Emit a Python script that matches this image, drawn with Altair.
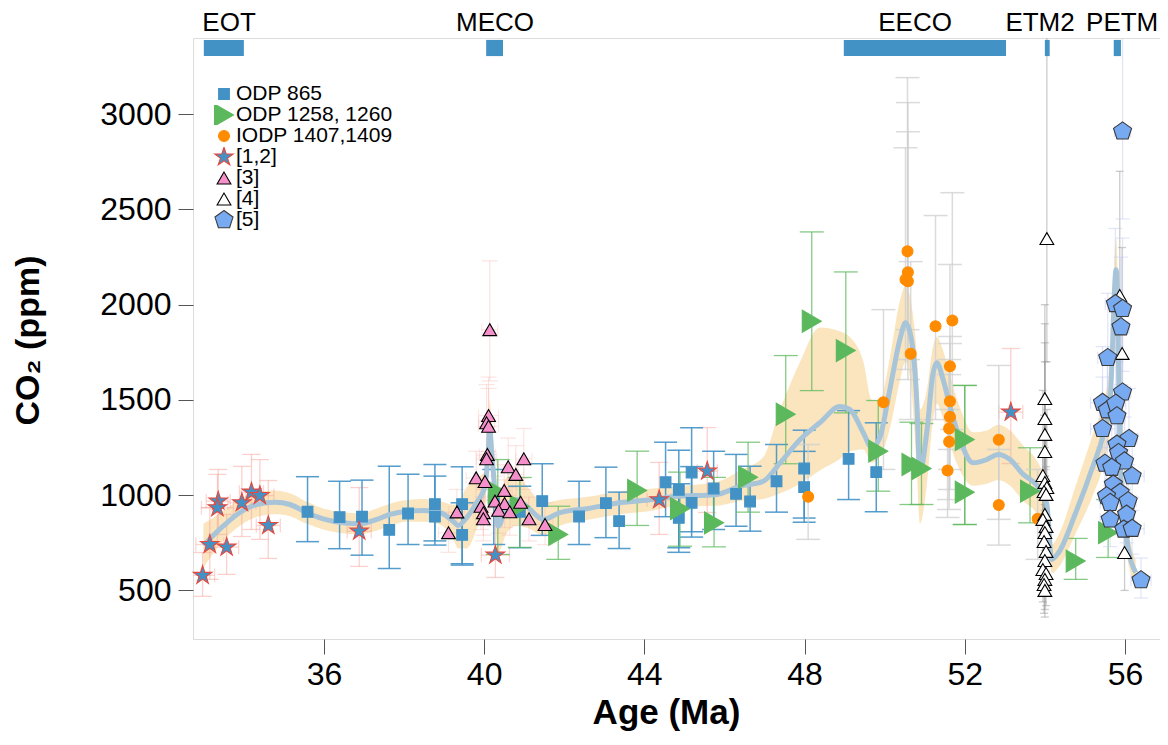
import altair as alt
import pandas as pd

FONT = "Liberation Sans"

# ---------------- data ----------------
series_names = ["ODP 865", "ODP 1258, 1260", "IODP 1407,1409", "[1,2]", "[3]", "[4]", "[5]"]

odp865_ma = [35.59, 36.39, 36.95, 37.63, 38.10, 38.77, 38.77, 39.45, 39.45, 40.24, 40.89, 41.45, 42.37, 43.04,
             43.37, 44.53, 44.86, 44.86, 45.18, 45.18, 45.73, 46.29, 46.64, 47.30, 47.99, 47.99, 49.10, 49.79]
odp865_ppm = [913, 885, 887, 818, 904, 953, 887, 953, 792, 977, 913, 969, 888, 958,
              864, 1068, 1028, 881, 1119, 960, 1035, 1007, 967, 1073, 1140, 1042, 1191, 1121]
odp865_lo = [756, 719, 685, 615, 741, 738, 760, 633, 640, 741, 724, 789, 741, 777,
             720, 887, 724, 700, 808, 780, 820, 837, 811, 911, 858, 880, 977, 913]
odp865_hi = [1097, 1073, 1079, 1152, 1110, 1161, 1100, 1149, 960, 1135, 1047, 1165, 1073, 1147,
             1016, 1278, 1236, 1060, 1354, 1150, 1231, 1214, 1152, 1266, 1341, 1230, 1444, 1380]

odp1258_ma = [40.34, 40.89, 41.85, 43.82, 44.89, 45.74, 46.59, 47.53, 48.18, 49.03, 49.84, 50.67, 50.92,
              52.00, 52.00, 53.63, 54.77, 55.58]
odp1258_ppm = [1014, 941, 794, 1025, 929, 855, 1094, 1425, 1913, 1759, 1231, 1161, 1140,
               1292, 1016, 1021, 654, 803]
odp1258_lo = [689, 726, 663, 841, 732, 729, 911, 1165, 1549, 1432, 1021, 951, 951,
              846, 846, 855, 558, 673]
odp1258_hi = [1187, 1093, 942, 1231, 1121, 1093, 1278, 1733, 2382, 2172, 1497, 1383, 1376,
              1576, 1576, 1249, 773, 977]

iodp_ma = [48.09, 49.97, 50.57, 50.58, 50.52, 50.58, 50.65, 51.27, 51.69, 51.63, 51.63, 51.63, 51.61,
           51.61, 51.57, 52.85, 52.85, 53.82]
iodp_ppm = [992, 1488, 2280, 2170, 2132, 2123, 1742, 1887, 1917, 1677, 1493, 1411, 1350,
            1280, 1130, 1291, 948, 876]
iodp_lo = [768, 1135, 1869, 1712, 1660, 1607, 1397, 1397, 1345, 1240, 1135, 1030, 977,
           925, 883, 873, 738, 663]
iodp_hi = [1266, 1974, 3192, 3061, 2824, 2908, 2226, 2468, 2588, 2211, 1833, 1796, 1712,
           1633, 1450, 1681, 1240, 1135]

ref12_ma = [32.97, 33.15, 33.36, 33.34, 33.57, 33.95, 34.19, 34.40, 34.61, 36.88, 40.28, 44.37, 45.57, 53.15]
ref12_ppm = [579, 741, 969, 934, 727, 960, 1016, 998, 841, 811, 685, 976, 1126, 1436]
ref12_lo = [469, 558, 794, 741, 584, 783, 820, 768, 668, 626, 568, 794, 909, 1166]
ref12_hi = [699, 935, 1135, 1109, 899, 1151, 1214, 1187, 1077, 1040, 977, 1172, 1355, 1770]
ref12_xerr = [0.30, 0.35, 0.30, 0.40, 0.30, 0.35, 0.30, 0.35, 0.30, 0.30, 0.35, 0.30, 0.25, 0.30]

ref3_ma = [39.11, 39.32, 39.80, 40.02, 39.92, 39.98, 39.98, 40.27, 40.50, 40.51, 40.36, 40.64,
           40.60, 40.79, 40.91, 41.12, 40.99, 41.52, 40.14, 40.11, 40.06, 40.11, 40.08, 40.06]
ref3_ppm = [803, 912, 1091, 1072, 942, 908, 876, 969, 1025, 956, 921, 913,
            1149, 1109, 963, 876, 1191, 846, 1869, 1418, 1380, 1362, 1214, 1191]
ref3_lo = [700, 800, 950, 930, 820, 790, 760, 840, 890, 830, 800, 790,
           1000, 960, 840, 760, 1030, 740, 1600, 1230, 1200, 1180, 1050, 1030]
ref3_hi = [910, 1030, 1230, 1210, 1070, 1030, 990, 1100, 1160, 1080, 1040, 1040,
           1300, 1260, 1090, 990, 1350, 960, 2230, 1620, 1580, 1560, 1390, 1360]
ref3_xerr = [0.25, 0.20, 0.25, 0.20, 0.20, 0.25, 0.20, 0.25, 0.20, 0.20, 0.25, 0.20,
             0.25, 0.20, 0.20, 0.25, 0.20, 0.20, 0.20, 0.25, 0.20, 0.25, 0.20, 0.25]

ref4_ma = [54.05, 54.00, 54.00, 54.00, 54.00, 53.95, 54.00, 54.05, 53.98, 54.03, 54.00, 53.95, 54.03,
           54.00, 53.98, 54.03, 54.00, 53.95, 54.03, 54.00, 53.98, 54.00, 55.87, 55.93, 55.99]
ref4_ppm = [2347, 1507, 1402, 1319, 1229, 1103, 1067, 1040, 1019, 1004, 899, 873, 836,
            804, 757, 705, 657, 610, 589, 558, 531, 500, 2048, 1744, 699]
ref4_lo = [1700, 1100, 1000, 950, 900, 800, 780, 760, 740, 730, 650, 630, 600,
           580, 550, 500, 470, 440, 420, 400, 380, 360, 1500, 1300, 500]
ref4_hi = [3500, 2000, 1900, 1800, 1700, 1550, 1500, 1450, 1420, 1400, 1250, 1200, 1150,
           1100, 1050, 980, 920, 860, 830, 790, 750, 710, 2700, 2300, 950]

ref5_ma = [55.94, 55.76, 55.94, 55.90, 55.57, 55.94, 55.44, 55.56, 55.77, 55.80, 55.44, 56.10, 55.80, 55.84,
           55.99, 55.50, 55.67, 56.18, 55.71, 55.88, 55.54, 56.08, 55.63, 56.04, 55.63, 55.97, 56.18, 56.40]
ref5_ppm = [2910, 2004, 1978, 1882, 1721, 1540, 1485, 1446, 1481, 1415, 1348, 1296, 1266, 1222,
            1178, 1166, 1144, 1100, 1056, 1013, 995, 969, 960, 899, 873, 820, 824, 554]
ref5_lo = [2450, 1700, 1650, 1580, 1450, 1290, 1250, 1210, 1240, 1190, 1130, 1090, 1060, 1030,
           990, 980, 960, 920, 890, 850, 830, 810, 800, 750, 730, 690, 690, 460]
ref5_hi = [3500, 2400, 2350, 2250, 2060, 1850, 1780, 1740, 1780, 1700, 1620, 1560, 1520, 1470,
           1410, 1400, 1370, 1320, 1270, 1220, 1200, 1160, 1150, 1080, 1050, 980, 990, 670]
ref5_xerr = [0.20, 0.25, 0.15, 0.20, 0.25, 0.20, 0.30, 0.20, 0.25, 0.20, 0.30, 0.20, 0.25, 0.20,
             0.20, 0.25, 0.20, 0.30, 0.20, 0.25, 0.20, 0.20, 0.25, 0.20, 0.25, 0.20, 0.30, 0.25]

fit_ma = [32.99, 33.48, 33.90, 34.32, 34.78, 35.15, 35.57, 35.98, 36.48, 36.90, 37.32, 37.65, 38.06, 38.48,
          38.90, 39.23, 39.35, 39.56, 39.81, 40.02, 40.10, 40.14, 40.19, 40.27, 40.35, 40.56, 40.81, 41.06,
          41.48, 41.89, 42.56, 43.39, 44.22, 44.72, 45.81, 46.39, 46.97, 47.39, 47.89, 48.38, 48.88, 49.13,
          49.47, 49.68, 49.88, 50.13, 50.38, 50.52, 50.67, 50.80, 50.88, 51.05, 51.21, 51.30, 51.46, 51.63,
          51.88, 52.21, 52.55, 52.84, 53.13, 53.46, 53.74, 53.88, 54.05, 54.17, 54.34, 54.77, 55.20, 55.45,
          55.63, 55.78, 55.90, 56.05, 56.27]
fit_ppm = [736, 837, 909, 951, 963, 951, 908, 876, 855, 850, 873, 899, 916, 920,
           909, 862, 841, 881, 960, 1047, 1223, 1345, 1223, 1013, 837, 942, 977, 942,
           873, 908, 929, 960, 977, 992, 1004, 1047, 1073, 1170, 1292, 1380, 1465, 1450,
           1327, 1249, 1303, 1555, 1817, 1905, 1817, 1502, 1118, 1327, 1642, 1695, 1607, 1467,
           1292, 1170, 1187, 1214, 1187, 1109, 1065, 1030, 951, 663, 698, 908, 1152, 1310,
           1502, 2184, 1082, 768, 593]
fit_lo = [620, 760, 840, 885, 900, 890, 850, 820, 800, 795, 815, 840, 860, 860,
          845, 770, 720, 720, 820, 960, 1150, 1250, 1100, 870, 700, 800, 840, 830,
          790, 840, 870, 900, 920, 940, 945, 970, 980, 1010, 1060, 1130, 1190, 1230,
          1240, 1170, 1200, 1350, 1600, 1700, 1550, 1150, 850, 1050, 1400, 1480, 1400, 1270,
          1130, 1050, 1060, 1080, 1050, 970, 920, 880, 860, 590, 620, 800, 1000, 1150,
          1350, 2000, 950, 680, 530]
fit_hi = [850, 915, 980, 1015, 1025, 1010, 965, 930, 910, 905, 930, 955, 975, 980,
          970, 950, 960, 1040, 1090, 1130, 1300, 1500, 1330, 1150, 980, 1090, 1110, 1050,
          960, 975, 990, 1020, 1035, 1045, 1070, 1130, 1200, 1450, 1700, 1880, 1860, 1830,
          1700, 1500, 1500, 1720, 2020, 2100, 2000, 1750, 1450, 1550, 1780, 1830, 1760, 1630,
          1460, 1330, 1340, 1370, 1340, 1260, 1200, 1150, 1040, 740, 790, 1050, 1320, 1480,
          1700, 2350, 1300, 880, 660]

event_names = ["EOT", "MECO", "EECO", "ETM2", "PETM"]
event_start = [33.00, 40.05, 48.98, 54.00, 55.72]
event_end = [34.00, 40.47, 53.03, 54.12, 55.90]
event_label_ma = [33.63, 40.27, 50.76, 53.88, 55.93]

# ---------------- styling ----------------
X_DOM = [32.73, 56.875]
Y_DOM = [245, 3400]
xs = alt.Scale(domain=X_DOM, nice=False, zero=False)
ys = alt.Scale(domain=Y_DOM, nice=False, zero=False)

STAR = "M0,-1L0.2245,-0.309L0.951,-0.309L0.363,0.118L0.588,0.809L0,0.382L-0.588,0.809L-0.363,0.118L-0.951,-0.309L-0.2245,-0.309Z"
PENT = "M0,-1L0.951,-0.309L0.588,0.809L-0.588,0.809L-0.951,-0.309Z"
shapes = ["square", "triangle-right", "circle", STAR, "triangle-up", "triangle-up", PENT]
fills = ["#4292c6", "#5cb85c", "#ff8c00", "#4292c6", "#f590cb", "#ffffff", "#78aaf2"]
strokes = ["#4292c6", "#5cb85c", "#ff8c00", "#e8473c", "#000000", "#000000", "#3a3a3a"]
sizes = [115, 480, 120, 380, 190, 190, 360]

xaxis = alt.Axis(values=[36, 40, 44, 48, 52, 56], title="Age (Ma)", titleFont=FONT, titleFontSize=35,
                 titleFontWeight="bold", titleColor="black", labelFont=FONT, labelFontSize=32,
                 labelColor="black", tickSize=15, tickColor="#555555", tickWidth=1, domain=False,
                 grid=False, labelPadding=5, titleX=473, titleY=84, titleBaseline="alphabetic")
yaxis = alt.Axis(values=[500, 1000, 1500, 2000, 2500, 3000], format="d", title="CO₂ (ppm)", titleFont=FONT,
                 titleFontSize=34, titleFontWeight="bold", titleColor="black", labelFont=FONT,
                 labelFontSize=32, labelColor="black", tickSize=15, tickColor="#555555", tickWidth=1,
                 domain=False, grid=False, labelPadding=7, titleX=-148, titleY=302,
                 titleBaseline="bottom", titleAngle=270)


def frame(name, ma, ppm, lo=None, hi=None, xerr=None):
    d = {"series": name, "ma": ma, "ppm": ppm}
    if lo is not None:
        d["lo"] = lo
        d["hi"] = hi
    if xerr is not None:
        d["xlo"] = [m - e for m, e in zip(ma, xerr)]
        d["xhi"] = [m + e for m, e in zip(ma, xerr)]
    return pd.DataFrame(d)


df865 = frame("ODP 865", odp865_ma, odp865_ppm, odp865_lo, odp865_hi)
df1258 = frame("ODP 1258, 1260", odp1258_ma, odp1258_ppm, odp1258_lo, odp1258_hi)
dfiodp = frame("IODP 1407,1409", iodp_ma, iodp_ppm, iodp_lo, iodp_hi)
df12 = frame("[1,2]", ref12_ma, ref12_ppm, ref12_lo, ref12_hi, ref12_xerr)
df3 = frame("[3]", ref3_ma, ref3_ppm, ref3_lo, ref3_hi, ref3_xerr)
df4 = frame("[4]", ref4_ma, ref4_ppm, ref4_lo, ref4_hi)
df5 = frame("[5]", ref5_ma, ref5_ppm, ref5_lo, ref5_hi, ref5_xerr)

points = pd.concat([df865, df1258, dfiodp, df12, df3, df4, df5], ignore_index=True)
points["idx"] = range(len(points))

fit = pd.DataFrame({"ma": fit_ma, "fit": fit_ppm, "lo": fit_lo, "hi": fit_hi})
events = pd.DataFrame({"name": event_names, "start": event_start, "end": event_end, "lab": event_label_ma})


def X0(f):
    return alt.X(f, scale=xs, axis=xaxis)


def Y0(f):
    return alt.Y(f, scale=ys, axis=yaxis)


def vbars(df, color, width, cap, opacity):
    base = alt.Chart(df)
    stem = base.mark_rule(color=color, strokeWidth=width, opacity=opacity, clip=True).encode(
        x=X0("ma:Q"), y=Y0("lo:Q"), y2="hi:Q")
    caps = base.transform_fold(["lo", "hi"], as_=["k", "v"]).mark_tick(
        orient="horizontal", size=cap, thickness=width, color=color, opacity=opacity, clip=True
    ).encode(x=X0("ma:Q"), y=Y0("v:Q"))
    return stem + caps


def hbars(df, color, width, cap, opacity):
    base = alt.Chart(df)
    stem = base.mark_rule(color=color, strokeWidth=width, opacity=opacity, clip=True).encode(
        x=X0("xlo:Q"), x2="xhi:Q", y=Y0("ppm:Q"))
    caps = base.transform_fold(["xlo", "xhi"], as_=["k", "v"]).mark_tick(
        orient="vertical", size=cap, thickness=width, color=color, opacity=opacity, clip=True
    ).encode(x=X0("v:Q"), y=Y0("ppm:Q"))
    return stem + caps


band = alt.Chart(fit).mark_area(color="#f9deae", opacity=0.8, interpolate="monotone", clip=True).encode(
    x=X0("ma:Q"), y=Y0("lo:Q"), y2="hi:Q")
line = alt.Chart(fit).mark_line(color="#a7c4d9", strokeWidth=5, interpolate="monotone", clip=True).encode(
    x=X0("ma:Q"), y=Y0("fit:Q"))

err_layers = [
    hbars(df12, "#f6a49b", 1.3, 14, 0.45),
    vbars(df12, "#f6a49b", 1.3, 18, 0.5),
    hbars(df3, "#f7b3ac", 1.2, 12, 0.3),
    vbars(df3, "#f7b3ac", 1.2, 16, 0.35),
    vbars(df865, "#4292c6", 1.5, 23, 0.9),
    vbars(df1258, "#5cb85c", 1.3, 24, 0.75),
    vbars(dfiodp, "#cfcfcf", 1.5, 24, 0.75),
    vbars(df4, "#9a9a9a", 1.3, 8, 0.5),
    hbars(df5, "#c3ccf2", 1.2, 12, 0.5),
    vbars(df5, "#c3ccf2", 1.2, 14, 0.5),
]

leg = alt.Legend(title=None, orient="none", legendX=19, legendY=46, labelFont=FONT, labelFontSize=21,
                 labelColor="black", rowPadding=0, labelOffset=0, padding=0, clipHeight=20,
                 symbolStrokeWidth=1.1)

pts = alt.Chart(points).mark_point(filled=True, opacity=1, strokeWidth=1.1).encode(
    x=X0("ma:Q"),
    y=Y0("ppm:Q"),
    shape=alt.Shape("series:N", scale=alt.Scale(domain=series_names, range=shapes), legend=leg),
    fill=alt.Fill("series:N", scale=alt.Scale(domain=series_names, range=fills), legend=leg),
    stroke=alt.Stroke("series:N", scale=alt.Scale(domain=series_names, range=strokes), legend=leg),
    size=alt.Size("series:N", scale=alt.Scale(type="ordinal", domain=series_names, range=sizes), legend=leg),
    order=alt.Order("idx:Q"),
)

ev_bars = alt.Chart(events).mark_rect(color="#4292c6").encode(
    x=X0("start:Q"), x2="end:Q", y=alt.datum(3390), y2=alt.datum(3305))
ev_text = alt.Chart(events).mark_text(font=FONT, fontSize=26, baseline="alphabetic", align="center",
                                      color="black").encode(
    x=X0("lab:Q"), y=alt.value(-7), text="name:N")

chart = alt.layer(band, *err_layers, line, pts, ev_bars, ev_text).properties(
    width=967, height=601,
    autosize=alt.AutoSizeParams(type="none"),
    padding={"left": 185, "top": 30, "right": 0, "bottom": 92},
).configure_view(stroke="black", strokeWidth=1.2).configure(font=FONT)

chart.save("out.html", embed_options={"renderer": "svg", "actions": False})
